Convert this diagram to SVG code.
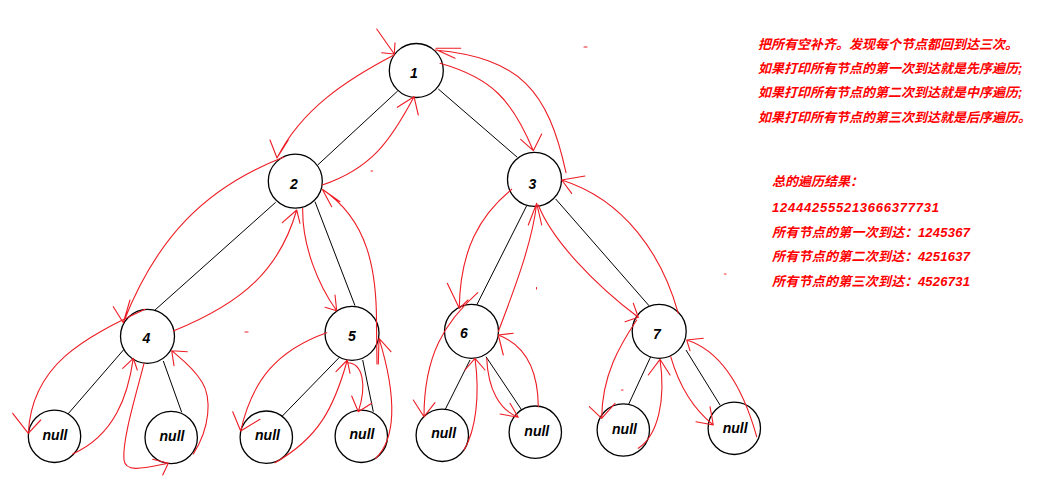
<svg xmlns="http://www.w3.org/2000/svg" width="1060" height="484" viewBox="0 0 1060 484">
<style>
.edge line{stroke:#000;stroke-width:1}
.node circle{fill:#fff;stroke:#000;stroke-width:1.3}
.lbl{font-family:"Liberation Sans",Arial,sans-serif;font-weight:bold;font-style:italic;font-size:14px;fill:#000;text-anchor:middle}
.trav path{fill:none;stroke:#ee1c24;stroke-width:1.1;stroke-linecap:round;stroke-linejoin:round}
.note{font-family:"Liberation Sans","Noto Sans CJK SC",sans-serif;font-weight:bold;font-style:italic;font-size:13px;fill:#ff0000}
</style>
<rect width="1060" height="484" fill="#fff"/>
<g id="edges" class="edge">
<line x1="397.7" y1="91" x2="317.7" y2="165"/>
<line x1="438.3" y1="89" x2="517.3" y2="157.3"/>
<line x1="275.7" y1="202.3" x2="155" y2="310"/>
<line x1="315" y1="201.7" x2="355" y2="305.7"/>
<line x1="526.7" y1="205.7" x2="476.7" y2="305"/>
<line x1="555.7" y1="199" x2="649" y2="305.7"/>
<line x1="124" y1="349.3" x2="67.7" y2="414.3"/>
<line x1="163.3" y1="361" x2="181.7" y2="412.3"/>
<line x1="340" y1="356.7" x2="281.7" y2="416.7"/>
<line x1="362.7" y1="360" x2="373.3" y2="411.7"/>
<line x1="470" y1="360" x2="443.3" y2="413.3"/>
<line x1="486" y1="356.7" x2="521.7" y2="410"/>
<line x1="650.7" y1="356.7" x2="628.3" y2="405"/>
<line x1="686" y1="350" x2="720" y2="405"/>
</g>
<g id="n1" class="node"><circle cx="416.3" cy="70.5" r="27"/><text class="lbl" x="414" y="77.7">1</text></g>
<g id="n2" class="node"><circle cx="295.3" cy="181.2" r="27"/><text class="lbl" x="294" y="189.3">2</text></g>
<g id="n3" class="node"><circle cx="534.5" cy="179.4" r="27"/><text class="lbl" x="532.5" y="189.3">3</text></g>
<g id="n4" class="node"><circle cx="147.5" cy="336.3" r="27"/><text class="lbl" x="146.5" y="343.3">4</text></g>
<g id="n5" class="node"><circle cx="352" cy="333.3" r="27"/><text class="lbl" x="352" y="341">5</text></g>
<g id="n6" class="node"><circle cx="471.5" cy="331.3" r="27"/><text class="lbl" x="464" y="338.3">6</text></g>
<g id="n7" class="node"><circle cx="659.2" cy="331.3" r="27"/><text class="lbl" x="657" y="339">7</text></g>
<g id="null4a" class="node"><circle cx="54.5" cy="436.3" r="26.2"/><text class="lbl" x="55" y="440">null</text></g>
<g id="null4b" class="node"><circle cx="171.2" cy="437.5" r="26.2"/><text class="lbl" x="172" y="441">null</text></g>
<g id="null5a" class="node"><circle cx="266.3" cy="437.2" r="26.2"/><text class="lbl" x="267.5" y="440">null</text></g>
<g id="null5b" class="node"><circle cx="361.3" cy="436.3" r="26.2"/><text class="lbl" x="362" y="439.3">null</text></g>
<g id="null6a" class="node"><circle cx="442.3" cy="435.3" r="26.2"/><text class="lbl" x="443.7" y="438.3">null</text></g>
<g id="null6b" class="node"><circle cx="535.3" cy="432.2" r="26.2"/><text class="lbl" x="536.8" y="436">null</text></g>
<g id="null7a" class="node"><circle cx="623.3" cy="430" r="26.2"/><text class="lbl" x="624.5" y="434">null</text></g>
<g id="null7b" class="node"><circle cx="734.3" cy="428.3" r="26.2"/><text class="lbl" x="735.2" y="432.7">null</text></g>
<g id="traversal" class="trav">
<path d="M376.7,29 L394.3,54 M381.7,52.7 L394.3,54 L395,42.7"/>
<path d="M394,55 C346,80 301.5,109.4 277,158 M270,140 L277,158 L288.3,140"/>
<path d="M284,157 C204,188 156,239 123.3,322.7 M113.3,306.7 L123.3,322.7 L130,300"/>
<path d="M145,309.3 C83.4,338 31.7,365 28.3,433.3 M12.7,413.3 L28.3,433.3 L40.7,420"/>
<path d="M72.7,454 C115,435 128,395 133.3,358.3 M122.7,368.3 L133.3,358.3 L137.3,370"/>
<path d="M144,363.3 C136,395 122,440 124,460 C125.5,474 148,467 168.3,463.3 M152.7,459.3 L168.3,463.3 L162.7,475"/>
<path d="M193.3,454 C210,428 212,398 202,382 S180,358 171.7,350.7 M187.3,351.7 L171.7,350.7 L174,365.7"/>
<path d="M173.3,331 C245,302 280,268 296.7,210 M282.3,222.7 L296.7,210 L300,223.3"/>
<path d="M302.7,208.3 C302,245 318,285 336.7,310.7 M325,307.3 L336.7,310.7 L335,295"/>
<path d="M326.7,332.7 C277.7,350 252,380 240.7,431 M232.7,411.7 L240.7,431 L260,419.3"/>
<path d="M275,462.7 C318.4,438 334,408 347.3,360 M336,371.7 L347.3,360 L350,373.3"/>
<path d="M347.3,362.7 C363,363 367,385 358.3,411.7 M351.7,396 L358.3,411.7 L371.7,403.3"/>
<path d="M375.7,458.3 C395,440 398,400 379,338.3 M391,351.7 L379,338.3 L378.3,364"/>
<path d="M377,364 L376.5,326 C377,270 368,220 322.3,189.3 M340,201.7 L322.3,189.3 L331.7,206.7"/>
<path d="M322.3,185 C370.8,168.7 390,141.7 414,96.7 M397.3,107.3 L414,96.7 L418.3,115"/>
<path d="M440,63.3 C492,78 512,100 533.3,150.7 M520.7,139.3 L533.3,150.7 L541.7,134"/>
<path d="M566,172.7 C548,90 520,58 435,50 M460.7,48.3 L436,48.3 M437,50 L455,58.3"/>
<path d="M511.7,189.3 C480,215 460,250 459.3,308.3 M447.3,283.3 L459.3,308.3 L468,300"/>
<path d="M477.7,292.7 C445,322 424,355 424,416.7 M413.3,400 L424,416.7 L435,402.7"/>
<path d="M464,450 C476,430 480,395 475,358.3 M465,370 L475,358.3 L485,370"/>
<path d="M486.7,358.3 C488,390 500,410 518.3,417.3 M500,414 L518.3,417.3 L510,403.3"/>
<path d="M538.3,406.7 C538,370 525,345 498.3,335 M513.3,333.3 L498.3,335 L503.3,355"/>
<path d="M498.3,331.7 C512,295 532,245 536.7,203.3 M528.3,225 L536.7,203.3 L541.7,225"/>
<path d="M538.3,205 C552,240 595,285 638.3,317.3 M633.3,303.3 L638.3,317.3 L625,321.7"/>
<path d="M636.7,320 C620,345 602,375 601.7,418.3 M589.3,406.7 L601.7,418.3 L615,403.3"/>
<path d="M638.3,448.3 C658,435 666,400 660,359.3 M648.3,375 L660,359.3 L670,375"/>
<path d="M670.7,356.7 C678,382 692,408 713.3,425 M696,421.7 L713.3,425 L710,406.7"/>
<path d="M756.7,436.7 C745,395 725,352 686.7,340 M703.3,338.3 L686.7,340 L690,350.7"/>
<path d="M678.3,313.3 C662,255 625,200 561.7,180 M585,176 L561.7,180 L571.7,193.3"/>
<path d="M584,47 h3 M371,171 h1.5 M245,332 h3 M536.5,287.5 v1.5 M621.5,390 h1.5 M724.5,274 h1.5"/>
</g>
<g id="notes" class="note">
<text x="758" y="49">把所有空补齐。发现每个节点都回到达三次。</text>
<text x="758" y="73">如果打印所有节点的第一次到达就是先序遍历;</text>
<text x="758" y="97">如果打印所有节点的第二次到达就是中序遍历;</text>
<text x="758" y="122">如果打印所有节点的第三次到达就是后序遍历。</text>
<text x="772" y="186">总的遍历结果：</text>
<text x="772" y="211.5" textLength="167">124442555213666377731</text>
<text x="772" y="236.5" textLength="198">所有节点的第一次到达：1245367</text>
<text x="772" y="261" textLength="198">所有节点的第二次到达：4251637</text>
<text x="772" y="286" textLength="198">所有节点的第三次到达：4526731</text>
</g>
</svg>
